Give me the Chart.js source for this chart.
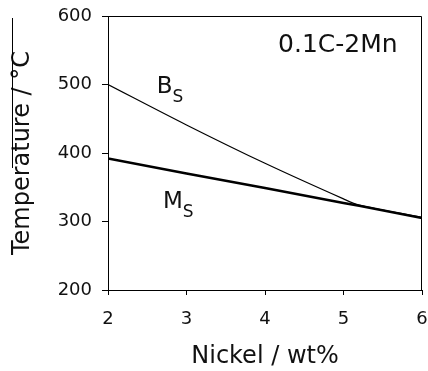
<!DOCTYPE html>
<html>
<head>
<meta charset="utf-8">
<script src="https://cdn.jsdelivr.net/npm/chart.js@4"></script>
<style>
  html, body { margin: 0; padding: 0; background: #fff; }
  #wrap { width: 428px; height: 371px; }
</style>
</head>
<body>
<div id="wrap"><canvas id="phaseChart" width="428" height="371"></canvas></div>
<script>
const nickel = [2, 3, 4, 5, 5.2, 6];
const bsTemp = [500, 441, 385, 333, 324, 306];
const msTemp = [392, 370, 349, 327, 323, 305];
const xTicks = [2, 3, 4, 5, 6];
const yTicks = [200, 300, 400, 500, 600];

// text labels placed in data space: [main, sub, x, y]
const curveLabels = [
    ["B", "S", 2.62, 488],
    ["M", "S", 2.70, 320]
];
const alloyLabel = ["0.1C-2Mn", 5.69, 547];

const font = "'DejaVu Sans', Verdana, sans-serif";

const decor = {
    id: "decor",
    afterDatasetsDraw(chart) {
        const c = chart.ctx;
        const a = chart.chartArea;
        const xs = chart.scales.x;
        const ys = chart.scales.y;
        c.save();
        c.strokeStyle = "#000";
        c.lineWidth = 1;
        // top and right frame
        c.beginPath();
        c.moveTo(a.left, a.top + 0.5);
        c.lineTo(a.right - 0.5, a.top + 0.5);
        c.lineTo(a.right - 0.5, a.bottom);
        c.stroke();
        c.beginPath();
        c.moveTo(12.5, 18);
        c.lineTo(12.5, 168);
        c.stroke();

        c.fillStyle = "#111";
        c.textBaseline = "alphabetic";
        curveLabels.forEach(l => {
            const px = xs.getPixelForValue(l[2]);
            const py = ys.getPixelForValue(l[3]);
            c.font = "23px " + font;
            c.textAlign = "left";
            c.fillText(l[0], px, py);
            const w = c.measureText(l[0]).width;
            c.font = "17px " + font;
            c.fillText(l[1], px + w, py + 9);
        });
        c.font = "25px " + font;
        c.textAlign = "right";
        c.fillText(alloyLabel[0], xs.getPixelForValue(alloyLabel[1]), ys.getPixelForValue(alloyLabel[2]));
        c.restore();
    }
};

new Chart(document.getElementById("phaseChart"), {
    type: "line",
    data: {
        datasets: [
            {
                label: "Bs",
                data: nickel.map((x, i) => ({ x: x, y: bsTemp[i] })),
                borderColor: "#000",
                borderWidth: 1.2,
                pointRadius: 0,
                tension: 0.3,
                fill: false
            },
            {
                label: "Ms",
                data: nickel.map((x, i) => ({ x: x, y: msTemp[i] })),
                borderColor: "#000",
                borderWidth: 2.6,
                pointRadius: 0,
                tension: 0,
                fill: false
            }
        ]
    },
    options: {
        responsive: false,
        animation: false,
        layout: { padding: { left: 0, top: 16, right: 6, bottom: 0 } },
        plugins: {
            legend: { display: false },
            tooltip: { enabled: false }
        },
        scales: {
            x: {
                type: "linear",
                min: 2,
                max: 6,
                afterBuildTicks: s => { s.ticks = xTicks.map(v => ({ value: v })); },
                afterFit: s => { s.height = 81; s.paddingLeft = 0; s.paddingRight = 0; },
                border: { display: true, color: "#000", width: 1 },
                grid: { drawOnChartArea: false, drawTicks: true, tickLength: 5, color: "#000" },
                ticks: { color: "#111", font: { family: font, size: 18 }, padding: 14, maxRotation: 0 },
                title: {
                    display: true,
                    text: "Nickel / wt%",
                    color: "#111",
                    font: { family: font, size: 24 },
                    padding: { top: 0, bottom: 0 }
                }
            },
            y: {
                type: "linear",
                min: 200,
                max: 600,
                afterBuildTicks: s => { s.ticks = yTicks.map(v => ({ value: v })); },
                afterFit: s => { s.width = 108; s.paddingTop = 0; s.paddingBottom = 0; },
                border: { display: true, color: "#000", width: 1 },
                grid: { drawOnChartArea: false, drawTicks: true, tickLength: 6, color: "#000" },
                ticks: { color: "#111", font: { family: font, size: 18 }, padding: 10 },
                title: {
                    display: true,
                    text: "Temperature / °C",
                    color: "#111",
                    font: { family: font, size: 24 },
                    padding: { top: 8, bottom: 0 }
                }
            }
        }
    },
    plugins: [decor]
});
</script>
</body>
</html>
